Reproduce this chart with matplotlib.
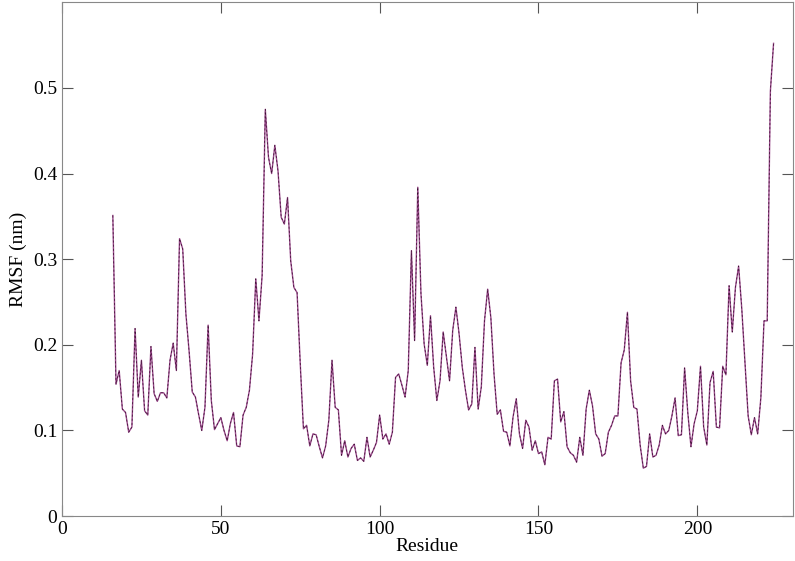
import matplotlib
matplotlib.use("Agg")
import matplotlib.pyplot as plt
import numpy as np

residues = list(range(16, 225))
rmsf = [
0.351,0.154,0.170,0.125,0.121,0.098,0.104,0.219,0.139,0.182,0.123,0.118,0.198,0.143,0.134,0.144,0.144,0.138,0.182,0.202,
0.170,0.324,0.312,0.236,0.193,0.145,0.139,0.119,0.100,0.127,0.223,0.135,0.101,0.108,0.115,0.100,0.088,0.108,0.121,0.082,
0.081,0.118,0.127,0.147,0.189,0.277,0.228,0.281,0.475,0.419,0.400,0.433,0.403,0.349,0.341,0.372,0.298,0.267,0.261,0.178,
0.102,0.106,0.082,
0.096,0.095,0.081,0.068,0.082,0.112,0.182,0.127,0.124,0.071,0.088,0.069,0.079,0.084,0.065,0.068,0.064,0.092,0.069,0.077,
0.086,0.118,0.090,0.096,0.084,0.098,0.162,0.166,0.153,0.139,0.170,0.310,0.205,0.384,0.260,0.201,0.176,0.234,0.174,0.135,
0.158,0.215,0.186,0.158,0.217,0.244,0.213,0.174,0.147,0.124,0.131,0.197,0.125,0.151,0.228,0.265,0.232,0.166,0.119,0.124,
0.099,0.098,0.082,0.116,0.137,0.096,0.079,0.112,0.104,0.077,0.088,0.073,
0.075,0.060,0.092,0.090,0.158,0.160,0.110,0.122,0.081,0.074,0.071,0.063,0.092,0.071,0.125,0.147,0.129,0.096,0.090,0.070,
0.073,0.098,0.106,0.117,0.117,0.179,0.194,0.238,0.158,0.127,0.125,0.083,0.056,0.058,0.096,0.069,0.071,0.083,0.106,0.096,
0.100,0.117,0.138,0.094,0.095,0.173,0.121,0.081,0.108,0.123,0.175,0.104,0.083,0.156,0.169,0.104,0.103,0.175,0.165,0.269,
0.215,0.267,0.292,0.242,0.179,0.117,0.095,0.115,0.096,0.138,0.228,0.228,0.496,0.552]

plt.rcParams['font.family'] = ['Liberation Serif', 'DejaVu Serif']
fig = plt.figure(figsize=(7.95, 5.61), dpi=100)
ax = fig.add_axes([0.078, 0.08, 0.919, 0.916])
ax.plot(residues, rmsf, color='#9b4a8c', lw=1.0)
ax.plot(residues, rmsf, color='#3a1030', lw=0.5, ls=(0, (3, 3)))
ax.set_xlim(0, 230)
ax.set_ylim(0, 0.6)
ax.set_xticks([0, 50, 100, 150, 200])
ax.set_yticks([0, 0.1, 0.2, 0.3, 0.4, 0.5])
ax.set_yticklabels(['0', '0.1', '0.2', '0.3', '0.4', '0.5'])
ax.tick_params(direction='in', top=True, right=True, length=8, labelsize=14, color='#555555')
for s in ax.spines.values():
    s.set_color('#888888')
ax.set_xlabel('Residue', fontsize=14, labelpad=0)
ax.set_ylabel('RMSF (nm)', fontsize=14, labelpad=4)
fig.savefig('out.png', dpi=100)
